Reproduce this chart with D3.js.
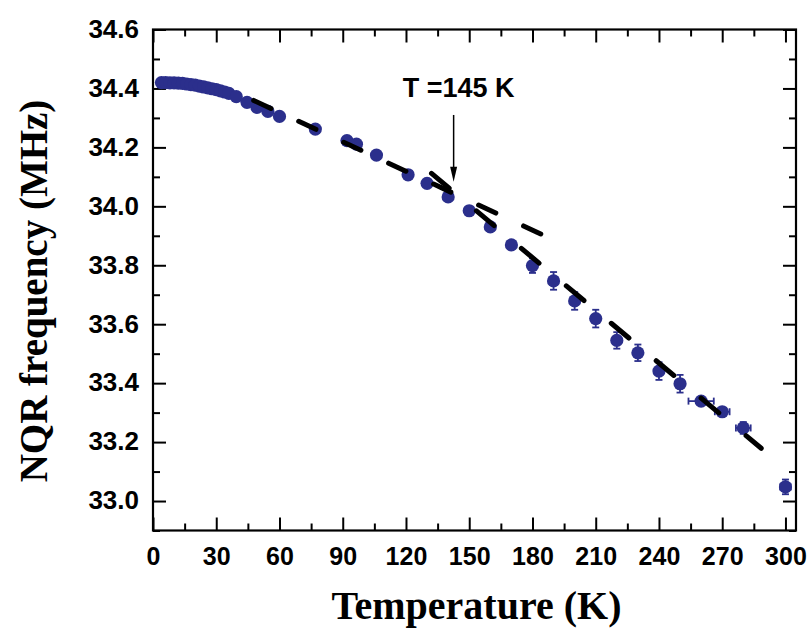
<!DOCTYPE html>
<html>
<head>
<meta charset="utf-8">
<script src="https://cdn.jsdelivr.net/npm/d3@7/dist/d3.min.js"></script>
<style>
  html, body { margin: 0; padding: 0; background: #ffffff; }
  svg { display: block; }
</style>
</head>
<body>
<svg id="chart" width="808" height="629"></svg>
<script>
// ---- data ----
const temps = [4, 6, 8, 10, 12, 14, 16, 18, 20, 22, 24, 26, 28, 30, 32, 34, 36, 39.5, 44.6, 49.3, 54.5, 60,
  77, 92, 96.5, 106, 121, 130, 140, 150, 160, 170, 180, 190, 200, 210, 220, 230, 240, 250, 260, 270, 280, 300];
const freqs = [34.420, 34.420, 34.419, 34.419, 34.418, 34.417, 34.415, 34.413, 34.411, 34.408, 34.405, 34.402,
  34.399, 34.396, 34.392, 34.388, 34.383, 34.372, 34.353, 34.336, 34.322, 34.305,
  34.262, 34.223, 34.211, 34.174, 34.107, 34.078, 34.032, 33.985, 33.930, 33.869, 33.799, 33.747, 33.679,
  33.619, 33.545, 33.503, 33.441, 33.398, 33.339, 33.303, 33.248, 33.048];
const freqErr = [0,0,0,0,0,0,0,0,0,0,0,0,0,0,0,0,0,0,0,0,0,0,
  0,0,0,0,0,0,0,0,0,0, 0.025, 0.03, 0.03, 0.03, 0.028, 0.028, 0.03, 0.03, 0, 0, 0.02, 0.025];
const tempErr = [0,0,0,0,0,0,0,0,0,0,0,0,0,0,0,0,0,0,0,0,0,0,
  0,0,0,0,0,0,0,0,0,0, 0,0,0,0,0,0,0,0, 6, 3.5, 3.5, 2.5];

// linear fits (dashed lines): [T, f] end points
const fitLow = [[46.7, 34.363], [184.9, 33.903]];
const fitHigh = [[131.2, 34.117], [288.5, 33.179]];

const xTicks = [0, 30, 60, 90, 120, 150, 180, 210, 240, 270, 300];
const yTicks = [33.0, 33.2, 33.4, 33.6, 33.8, 34.0, 34.2, 34.4, 34.6];
const annotation = { text: "T =145 K", T: 145, f: 34.371 };
const arrow = { T: 142.6, fTop: 34.31, fTip: 34.083 };
const xTitle = "Temperature (K)";
const yTitle = "NQR frequency (MHz)";

// ---- layout ----
const svg = d3.select("#chart");
const pL = 153, pR = 796, pT = 29.5, pB = 530.5;
const x = d3.scaleLinear().domain([0, 305]).range([pL, pR]);
const y = d3.scaleLinear().domain([32.9, 34.6]).range([pB, pT]);

const markColor = "#2b2f8c";
const sansBold = "'Liberation Sans', Arial, sans-serif";
const serif = "'Liberation Serif', 'Times New Roman', serif";

// ---- axes ----
const xMinor = d3.range(15, 305, 30);
const yMinor = d3.range(32.9, 34.6, 0.2).map(v => +v.toFixed(1));

function styleAxis(g) {
  g.select(".domain").remove();
  g.selectAll("line").attr("stroke", "#000").attr("stroke-width", 2);
}

// bottom major
svg.append("g").attr("transform", `translate(0,${pB})`)
  .call(d3.axisBottom(x).tickValues(xTicks).tickSizeInner(-13).tickSizeOuter(0).tickPadding(17).tickFormat(d3.format("d")))
  .call(styleAxis)
  .call(g => g.selectAll("text").attr("font-family", sansBold).attr("font-weight", "bold").attr("font-size", "25px").attr("fill", "#000"));
svg.append("g").attr("transform", `translate(0,${pB})`)
  .call(d3.axisBottom(x).tickValues(xMinor).tickSizeInner(-7).tickSizeOuter(0).tickFormat(""))
  .call(styleAxis);
// top
svg.append("g").attr("transform", `translate(0,${pT})`)
  .call(d3.axisTop(x).tickValues(xTicks).tickSizeInner(-13).tickSizeOuter(0).tickFormat(""))
  .call(styleAxis);
svg.append("g").attr("transform", `translate(0,${pT})`)
  .call(d3.axisTop(x).tickValues(xMinor).tickSizeInner(-7).tickSizeOuter(0).tickFormat(""))
  .call(styleAxis);
// left
svg.append("g").attr("transform", `translate(${pL},0)`)
  .call(d3.axisLeft(y).tickValues(yTicks).tickSizeInner(-13).tickSizeOuter(0).tickPadding(14).tickFormat(d3.format(".1f")))
  .call(styleAxis)
  .call(g => g.selectAll("text").attr("font-family", sansBold).attr("font-weight", "bold").attr("font-size", "26px").attr("fill", "#000").attr("dy", "0.3em"));
svg.append("g").attr("transform", `translate(${pL},0)`)
  .call(d3.axisLeft(y).tickValues(yMinor).tickSizeInner(-7).tickSizeOuter(0).tickFormat(""))
  .call(styleAxis);
// right
svg.append("g").attr("transform", `translate(${pR},0)`)
  .call(d3.axisRight(y).tickValues(yTicks).tickSizeInner(-13).tickSizeOuter(0).tickFormat(""))
  .call(styleAxis);
svg.append("g").attr("transform", `translate(${pR},0)`)
  .call(d3.axisRight(y).tickValues(yMinor).tickSizeInner(-7).tickSizeOuter(0).tickFormat(""))
  .call(styleAxis);

// frame
svg.append("rect")
  .attr("x", pL).attr("y", pT)
  .attr("width", pR - pL).attr("height", pB - pT)
  .attr("fill", "none").attr("stroke", "#000").attr("stroke-width", 2.2);

// ---- data marks ----
const pts = temps.map((t, i) => ({ t, f: freqs[i], ey: freqErr[i], ex: tempErr[i] }));
const plot = svg.append("g");

// error bars
const cap = 3.5;
pts.filter(d => d.ey > 0).forEach(d => {
  const cx = x(d.t), y1 = y(d.f - d.ey), y2 = y(d.f + d.ey);
  plot.append("line").attr("x1", cx).attr("x2", cx).attr("y1", y1).attr("y2", y2)
    .attr("stroke", markColor).attr("stroke-width", 1.8);
  [y1, y2].forEach(yy => plot.append("line").attr("x1", cx - cap).attr("x2", cx + cap).attr("y1", yy).attr("y2", yy)
    .attr("stroke", markColor).attr("stroke-width", 1.8));
});
pts.filter(d => d.ex > 0).forEach(d => {
  const cy = y(d.f), x1 = x(d.t - d.ex), x2 = x(d.t + d.ex);
  plot.append("line").attr("x1", x1).attr("x2", x2).attr("y1", cy).attr("y2", cy)
    .attr("stroke", markColor).attr("stroke-width", 1.8);
  [x1, x2].forEach(xx => plot.append("line").attr("x1", xx).attr("x2", xx).attr("y1", cy - cap).attr("y2", cy + cap)
    .attr("stroke", markColor).attr("stroke-width", 1.8));
});

plot.selectAll("circle.pt").data(pts).enter().append("circle")
  .attr("class", "pt")
  .attr("cx", d => x(d.t)).attr("cy", d => y(d.f)).attr("r", 6.6)
  .attr("fill", markColor);

// ---- fit lines ----
const line = d3.line().x(d => x(d[0])).y(d => y(d[1]));
svg.append("path").datum(fitLow).attr("d", line)
  .attr("fill", "none").attr("stroke", "#000").attr("stroke-width", 5)
  .attr("stroke-linecap", "round").attr("stroke-dasharray", "19,30.6").attr("stroke-dashoffset", -2.5);
svg.append("path").datum(fitHigh).attr("d", line)
  .attr("fill", "none").attr("stroke", "#000").attr("stroke-width", 5)
  .attr("stroke-linecap", "round").attr("stroke-dasharray", "23,35.5").attr("stroke-dashoffset", -2.5);

// ---- annotation ----
svg.append("text")
  .attr("x", x(annotation.T)).attr("y", y(annotation.f))
  .attr("text-anchor", "middle")
  .attr("font-family", sansBold).attr("font-weight", "bold").attr("font-size", "27px")
  .text(annotation.text);

const ax = x(arrow.T), ayTop = y(arrow.fTop), ayTip = y(arrow.fTip);
svg.append("line").attr("x1", ax).attr("x2", ax).attr("y1", ayTop).attr("y2", ayTip - 12)
  .attr("stroke", "#000").attr("stroke-width", 1.5);
svg.append("path")
  .attr("d", `M${ax - 3.5},${ayTip - 15} L${ax + 3.5},${ayTip - 15} L${ax},${ayTip} Z`)
  .attr("fill", "#000");

// ---- titles ----
svg.append("text")
  .attr("x", (pL + pR) / 2 + 2).attr("y", 619)
  .attr("text-anchor", "middle")
  .attr("font-family", serif).attr("font-weight", "bold").attr("font-size", "40px")
  .text(xTitle);

svg.append("text")
  .attr("transform", `translate(47,291) rotate(-90)`)
  .attr("text-anchor", "middle")
  .attr("font-family", serif).attr("font-weight", "bold").attr("font-size", "39px")
  .text(yTitle);
</script>
</body>
</html>
